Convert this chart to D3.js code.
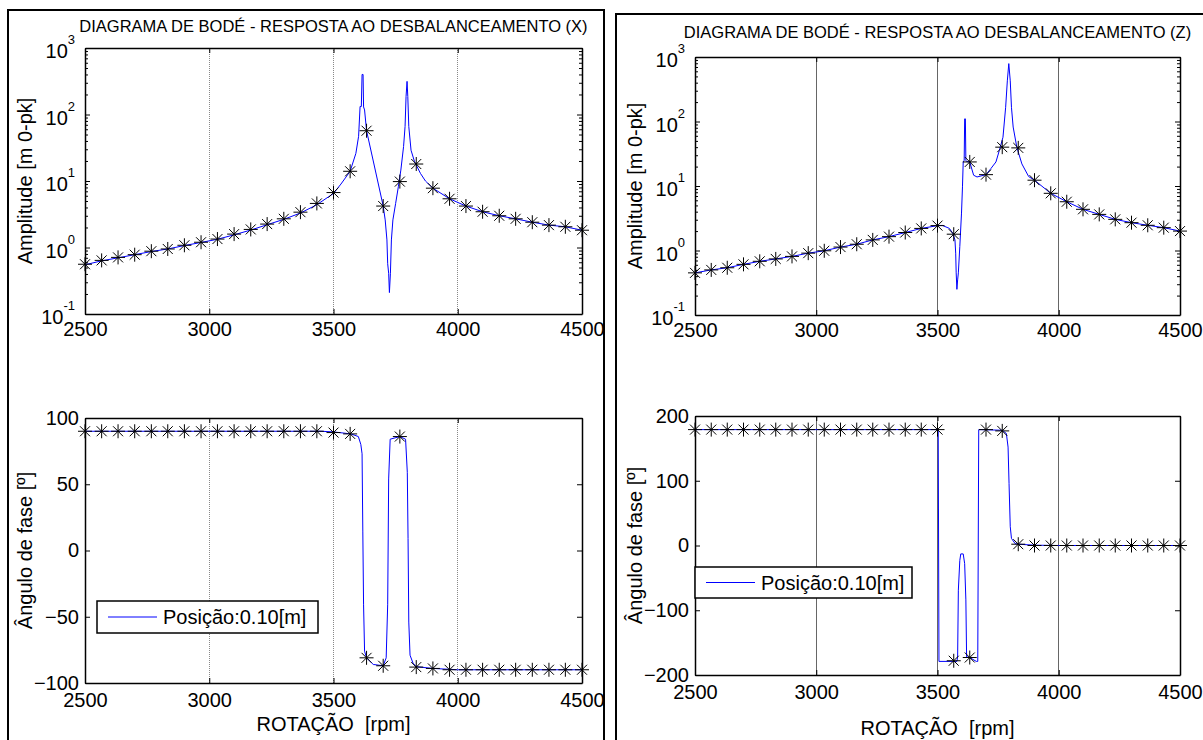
<!DOCTYPE html>
<html>
<head>
<meta charset="utf-8">
<script src="https://cdn.jsdelivr.net/npm/d3@7"></script>
<style>
      body { margin: 0; background: #fff; }
      svg text { font-family: "Liberation Sans", Arial, sans-serif; fill: #000; }
</style>
</head>
<body>
<svg id="fig" width="1203" height="740"></svg>
<script>
//rotation of the marked points (rpm)
const markerRpm = [2500, 2567, 2633, 2700, 2767, 2833, 2900, 2967, 3033, 3100, 3167, 3233, 3300, 3367, 3433,
      3500, 3567, 3633, 3700, 3767, 3833, 3900, 3967, 4033, 4100, 4167, 4233, 4300, 4367, 4433, 4500];

//markers (X)
const ampMarkX = [0.56, 0.64, 0.71, 0.78, 0.88, 0.95, 1.08, 1.2, 1.34, 1.59, 1.87, 2.25, 2.7, 3.4, 4.6,
      6.7, 14, 57, 4.2, 9.8, 18, 7.8, 5.4, 4.2, 3.45, 3.0, 2.7, 2.4, 2.17, 2.05, 1.82];
const phaseMarkX = [90, 90, 90, 90, 90, 90, 90, 90, 90, 90, 90, 90, 90, 90, 90,
      89, 88, -81, -87, 86, -88, -89, -90, -90, -90, -90, -90, -90, -90, -90, -90];

//markers (Z)
const ampMarkZ = [0.45, 0.50, 0.54, 0.61, 0.68, 0.74, 0.81, 0.91, 0.99, 1.13, 1.25, 1.46, 1.64, 1.9, 2.2,
      2.43, 1.79, 23.6, 15, 40, 39, 12.3, 7.7, 5.7, 4.35, 3.63, 3.04, 2.7, 2.46, 2.26, 2.0];
const phaseMarkZ = [179, 179, 179, 179, 179, 179, 179, 179, 179, 179, 179, 179, 179, 179, 179,
      179, -178, -173, 179, 177, 2, 0, 0, 0, 0, 0, 0, 0, 0, 0, 0];

//blue line, amplitude (X)
const ampRpmX = [2500, 2567, 2633, 2700, 2767, 2833, 2900, 2967, 3033, 3100, 3167, 3233, 3300, 3367, 3433,
      3500, 3530, 3567, 3590, 3601, 3607, 3612, 3615, 3619, 3621, 3625, 3633, 3660, 3700, 3708,
      3715, 3718, 3722, 3725, 3729, 3733, 3739, 3750, 3761, 3771, 3782, 3788, 3792, 3796, 3799,
      3803, 3812, 3826, 3850, 3870, 3900, 3967, 4033, 4100, 4167, 4233, 4300, 4367, 4433, 4500];
const ampLineX = [0.55, 0.63, 0.70, 0.78, 0.87, 0.95, 1.07, 1.19, 1.33, 1.55, 1.83, 2.2, 2.65, 3.3, 4.4,
      6.5, 9.0, 14, 26, 47, 132, 132, 400, 400, 130, 117, 57, 20, 4.2, 2.6,
      1.3, 0.57, 0.41, 0.21, 0.41, 1.3, 2.6, 4.6, 8.2, 14.6, 33, 66, 186, 315, 186,
      66, 29, 19.6, 13, 10, 7.8, 5.4, 4.2, 3.45, 3.0, 2.7, 2.4, 2.17, 2.05, 1.82];

//blue line, phase (X)
const phaseRpmX = [2500, 3450, 3500, 3570, 3600, 3610, 3615, 3618, 3621, 3625, 3633, 3660, 3700, 3712,
      3718, 3722, 3728, 3767, 3790, 3797, 3800, 3803, 3808, 3820, 3833, 3900, 4000, 4500];
const phaseLineX = [90, 90, 89.5, 88, 86, 80, 73, 14, -41, -76, -81, -86, -87, -81,
      -41, 54, 84, 86, 84, 59, 9, -54, -79, -85, -87.7, -89, -90, -90];

//blue line, amplitude (Z)
const ampRpmZ = [2500, 2567, 2633, 2700, 2767, 2833, 2900, 2967, 3033, 3100, 3167, 3233, 3300, 3367, 3433,
      3500, 3520, 3549, 3563, 3572, 3575, 3577, 3580, 3583, 3586, 3592, 3599, 3603, 3606, 3610,
      3612, 3615, 3617, 3620, 3633, 3649, 3663, 3700, 3720, 3741, 3755, 3770, 3781, 3788, 3794,
      3800, 3805, 3812, 3827, 3848, 3876, 3900, 3967, 4033, 4100, 4167, 4233, 4300, 4367, 4433, 4500];
const ampLineZ = [0.45, 0.50, 0.54, 0.61, 0.68, 0.74, 0.81, 0.91, 0.99, 1.13, 1.25, 1.46, 1.64, 1.9, 2.2,
      2.43, 2.45, 2.2, 1.85, 1.46, 0.91, 0.45, 0.25, 0.35, 0.45, 1.15, 3.8, 9.7, 23.6, 25,
      110, 110, 25, 24, 23.6, 14.7, 13.8, 15, 18.6, 23.6, 35.6, 57, 166, 427, 790,
      427, 166, 82, 40, 22, 14, 12.3, 7.7, 5.7, 4.35, 3.63, 3.04, 2.7, 2.46, 2.26, 2.0];

//blue line, phase (Z)
const phaseRpmZ = [2500, 3503, 3506, 3580, 3583, 3586, 3592, 3596, 3606, 3612, 3617, 3620, 3633, 3660,
      3666, 3670, 3767, 3784, 3791, 3795, 3800, 3805, 3820, 3833, 3900, 4000, 4500];
const phaseLineZ = [179, 179, -179, -179, -172, -69, -23, -13, -13, -28, -84, -172, -173, -179,
      -179, 179, 178, 173, 152, 96, 29, 11, 3, 2, 0.5, 0, 0];

//ticks and texts
const xTicks = [2500, 3000, 3500, 4000, 4500];
const gridTicks = [3000, 3500, 4000];
const ampTicks = [0.1, 1, 10, 100, 1000];
const phaseTicksX = [-100, -50, 0, 50, 100];
const phaseTicksZ = [-200, -100, 0, 100, 200];
const titleX = "DIAGRAMA DE BODÉ - RESPOSTA AO DESBALANCEAMENTO (X)";
const titleZ = "DIAGRAMA DE BODÉ - RESPOSTA AO DESBALANCEAMENTO (Z)";
const ampLabel = "Amplitude [m 0-pk]";
const phaseLabel = "Ângulo de fase [º]";
const rpmLabel = "ROTAÇÃO  [rpm]";
const legendText = "Posição:0.10[m]";

const svg = d3.select("#fig");
const font = "'Liberation Sans', Arial, sans-serif";

//figure frames
svg.append("rect")
      .attr("x", 8).attr("y", 10).attr("width", 596).attr("height", 800)
      .style("fill", "none").style("stroke", "#000").style("stroke-width", 2);
svg.append("rect")
      .attr("x", 616).attr("y", 14).attr("width", 700).attr("height", 800)
      .style("fill", "none").style("stroke", "#000").style("stroke-width", 2);

const zip = (a, b) => a.map((v, i) => [v, b[i]]);
const star = "M-7,0H7M0,-7V7M-5,-5L5,5M-5,5L5,-5";

function panel(p) {
      const x = d3.scaleLinear().domain([2500, 4500]).range([p.left, p.right]);
      const y = (p.log ? d3.scaleLog() : d3.scaleLinear()).domain(p.yDomain).range([p.bottom, p.top]);
      const g = svg.append("g");

      //vertical grid
      g.selectAll(".grid")
            .data(gridTicks)
            .enter()
            .append("line")
            .attr("x1", (d) => x(d)).attr("x2", (d) => x(d))
            .attr("y1", p.top).attr("y2", p.bottom)
            .style("stroke", p.gridColor)
            .style("stroke-dasharray", p.gridDash)
            .style("shape-rendering", "crispEdges");

      //axes (ticks inside, box on)
      const yMajor = p.log ? ampTicks : p.yTicks;
      const yAll = p.log ? y.ticks() : p.yTicks;
      const axes = [
            [d3.axisBottom(x).tickValues(xTicks).tickFormat(d3.format("d")), `translate(0,${p.bottom})`],
            [d3.axisTop(x).tickValues(xTicks).tickFormat(""), `translate(0,${p.top})`],
            [d3.axisLeft(y).tickValues(yAll).tickFormat(p.log ? "" : d3.format("d")), `translate(${p.left},0)`],
            [d3.axisRight(y).tickValues(yAll).tickFormat(""), `translate(${p.right},0)`]
      ];
      axes.forEach(([ax, tr], i) => {
            const a = g.append("g")
                  .attr("transform", tr)
                  .call(ax.tickSizeInner(-5).tickSizeOuter(0).tickPadding(i == 0 ? p.xPad : 6))
                  .attr("font-size", 20)
                  .attr("font-family", font);
            a.select(".domain").style("stroke", "#000").style("stroke-width", 1.5);
            a.selectAll(".tick line").style("stroke", "#000");
            if (p.log && i >= 2) {
                  //minor log ticks are shorter
                  a.selectAll(".tick line")
                        .attr("x2", (d) => yMajor.includes(d) ? (i == 2 ? 5 : -5) : (i == 2 ? 3 : -3));
            }
      });

      //log labels 10^n
      if (p.log) {
            const lab = g.selectAll(".loglab")
                  .data(ampTicks)
                  .enter()
                  .append("text")
                  .attr("x", p.left - 10)
                  .attr("y", (d) => y(d) + 10)
                  .attr("text-anchor", "end")
                  .style("font-size", "20px");
            lab.append("tspan").text("10");
            lab.append("tspan")
                  .attr("dy", -14)
                  .style("font-size", "13px")
                  .text((d) => Math.round(Math.log10(d)));
      }

      //blue line
      const line = d3.line().x((d) => x(d[0])).y((d) => y(d[1]));
      g.append("path")
            .datum(zip(p.lineX, p.lineY))
            .attr("d", line)
            .style("fill", "none")
            .style("stroke", "#0000ff")
            .style("stroke-width", 1);

      //asterisk markers
      g.selectAll(".mark")
            .data(zip(markerRpm, p.marks))
            .enter()
            .append("path")
            .attr("d", star)
            .attr("transform", (d) => `translate(${x(d[0])},${y(d[1])})`)
            .style("fill", "none")
            .style("stroke", "#000")
            .style("stroke-width", 1);

      //labels
      g.append("text")
            .attr("transform", `translate(${p.left - 60},${(p.top + p.bottom) / 2}) rotate(-90)`)
            .attr("text-anchor", "middle")
            .attr("dy", "0.35em")
            .style("font-size", "20px")
            .text(p.yLabel);
      if (p.title) {
            g.append("text")
                  .attr("x", (p.left + p.right) / 2)
                  .attr("y", p.titleY)
                  .attr("text-anchor", "middle")
                  .style("font-size", "16.5px")
                  .text(p.title);
      }
      if (p.xLabel) {
            g.append("text")
                  .attr("x", (p.left + p.right) / 2)
                  .attr("y", p.xLabelY)
                  .attr("text-anchor", "middle")
                  .style("font-size", "20px")
                  .style("white-space", "pre")
                  .text(p.xLabel);
      }

      //legend
      if (p.legend) {
            const L = p.legend;
            g.append("rect")
                  .attr("x", L.x).attr("y", L.y).attr("width", L.w).attr("height", L.h)
                  .style("fill", "#fff").style("stroke", "#000").style("stroke-width", 1.5);
            g.append("line")
                  .attr("x1", L.x + 11).attr("x2", L.x + 60)
                  .attr("y1", L.y + L.h / 2).attr("y2", L.y + L.h / 2)
                  .style("stroke", "#0000ff");
            g.append("text")
                  .attr("x", L.x + 66).attr("y", L.y + L.h / 2)
                  .attr("dy", "0.35em")
                  .style("font-size", "20px")
                  .text(legendText);
      }
}

//left figure (X)
panel({ left: 85, right: 582, top: 48, bottom: 314, log: true, yDomain: [0.1, 1000], xPad: 8,
      gridColor: "#888", gridDash: "1,1", lineX: ampRpmX, lineY: ampLineX, marks: ampMarkX,
      yLabel: ampLabel, title: titleX, titleY: 32 });
panel({ left: 85, right: 582, top: 418, bottom: 683, log: false, yDomain: [-100, 100], yTicks: phaseTicksX,
      xPad: 10, gridColor: "#888", gridDash: "1,1", lineX: phaseRpmX, lineY: phaseLineX, marks: phaseMarkX,
      yLabel: phaseLabel, xLabel: rpmLabel, xLabelY: 731,
      legend: { x: 97, y: 601, w: 221, h: 32 } });

//right figure (Z)
panel({ left: 695, right: 1180, top: 57, bottom: 315, log: true, yDomain: [0.1, 1000], xPad: 8,
      gridColor: "#666", gridDash: null, lineX: ampRpmZ, lineY: ampLineZ, marks: ampMarkZ,
      yLabel: ampLabel, title: titleZ, titleY: 38 });
panel({ left: 695, right: 1180, top: 416, bottom: 675, log: false, yDomain: [-200, 200], yTicks: phaseTicksZ,
      xPad: 10, gridColor: "#666", gridDash: null, lineX: phaseRpmZ, lineY: phaseLineZ, marks: phaseMarkZ,
      yLabel: phaseLabel, xLabel: rpmLabel, xLabelY: 735,
      legend: { x: 695, y: 567, w: 217, h: 31 } });
</script>
</body>
</html>
